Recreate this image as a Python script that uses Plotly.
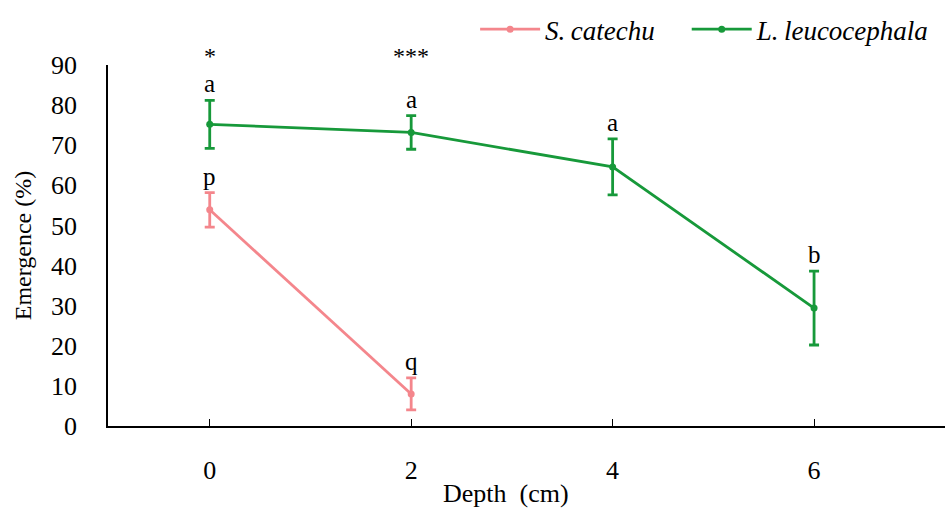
import plotly.graph_objects as go

depth_s = [0, 2]
s_catechu = [53.9, 8.0]
s_err = [4.3, 4.0]
s_letters = ["p", "q"]

depth_l = [0, 2, 4, 6]
l_leuco = [75.2, 73.2, 64.6, 29.4]
l_err = [6.0, 4.2, 7.0, 9.2]
l_letters = ["a", "a", "a", "b"]

stars_x = [0, 2]
stars = ["*", "***"]

pink = "#F4868C"
green = "#17993A"
font = "Liberation Serif, Times New Roman, serif"
fs = 26

fig = go.Figure()
fig.add_trace(go.Scatter(
    x=depth_s, y=s_catechu, mode="lines+markers", name="S.\u2009catechu\u00a0\u00a0\u00a0\u00a0",
    line=dict(color=pink, width=2.8), marker=dict(size=7, color=pink),
    error_y=dict(type="data", array=s_err, color=pink, thickness=2.8, width=5),
))
fig.add_trace(go.Scatter(
    x=depth_l, y=l_leuco, mode="lines+markers", name="L.\u2009leucocephala",
    line=dict(color=green, width=2.8), marker=dict(size=7, color=green),
    error_y=dict(type="data", array=l_err, color=green, thickness=2.8, width=5),
))

for xs, ys, es, ls in [(depth_s, s_catechu, s_err, s_letters), (depth_l, l_leuco, l_err, l_letters)]:
    for x, y, e, t in zip(xs, ys, es, ls):
        fig.add_annotation(x=x, y=y + e, text=t, showarrow=False, yanchor="bottom",
                           yshift=1, font=dict(family=font, size=25, color="black"))

for x, t in zip(stars_x, stars):
    fig.add_annotation(x=x, y=1.0, yref="paper", text=t, showarrow=False, yanchor="bottom",
                       yshift=-6, font=dict(family=font, size=24, color="black"))

fig.add_annotation(x=0.4755, xref="paper", y=-0.1856, yref="paper", text="Depth\u2002(cm)",
                   showarrow=False, xanchor="center", yanchor="middle",
                   font=dict(family=font, size=fs, color="black"))

fig.update_layout(
    width=945, height=508,
    margin=dict(l=108, r=0, t=65, b=82),
    plot_bgcolor="white", paper_bgcolor="white",
    font=dict(family=font, size=fs, color="black"),
    showlegend=True,
    legend=dict(orientation="h", x=0.987, xanchor="right", y=0.99, yanchor="top",
                yref="container", itemwidth=60,
                font=dict(family=font, size=27, color="black", style="italic")),
    xaxis=dict(range=[-1.01, 7.3], tickvals=[0, 2, 4, 6], showgrid=False, zeroline=False,
               showline=True, linecolor="black", linewidth=1.5, ticks="inside", ticklen=7,
               tickcolor="black", ticklabelstandoff=20, automargin=False,
               tickfont=dict(family=font, size=fs)),
    yaxis=dict(range=[0, 90], tickvals=list(range(0, 91, 10)), showgrid=False, zeroline=False,
               showline=True, linecolor="black", linewidth=1.5, ticks="",
               ticklabelstandoff=24, automargin=False,
               tickfont=dict(family=font, size=fs),
               title=dict(text="Emergence (%)", font=dict(family=font, size=24), standoff=13)),
)

fig.write_html("out.html", config={"displayModeBar": False},
               post_script="document.body.style.margin='0';document.body.style.overflow='hidden';")
